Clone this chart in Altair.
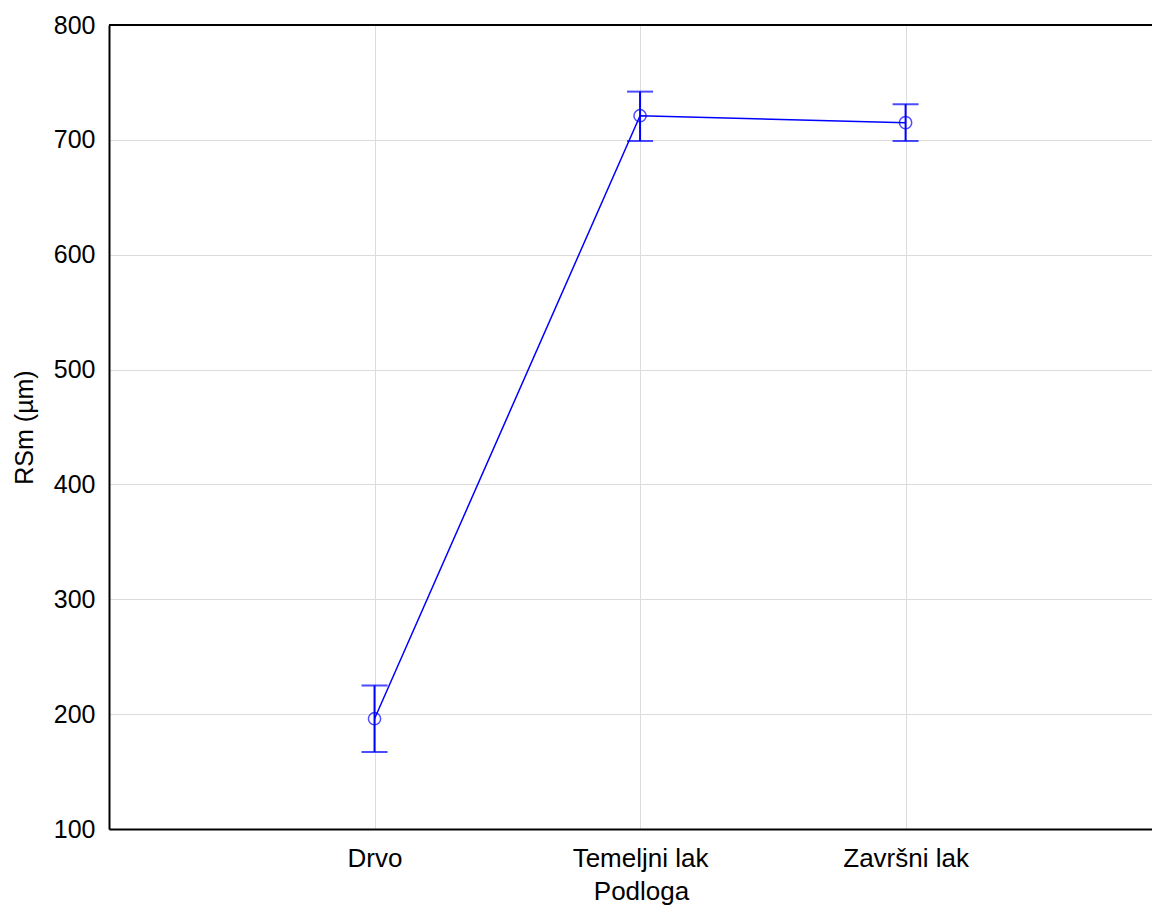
import altair as alt
import pandas as pd

categories = ["Drvo", "Temeljni lak", "Završni lak"]
positions = [1, 2, 3]
means = [196, 721, 715]
upper = [225, 742, 731]
lower = [167, 699, 699]

y_ticks = [100, 200, 300, 400, 500, 600, 700, 800]

df = pd.DataFrame({"pos": positions, "cat": categories, "mean": means, "hi": upper, "lo": lower})

W = 1043
H = 804
BLUE = "#0000ff"
FONT = "Liberation Sans"

label_expr = " : ".join(
    [f"datum.value == {p} ? '{c}'" for p, c in zip(positions, categories)]
) + " : ''"

x = alt.X("pos:Q", scale=alt.Scale(domain=[0, 3.928], nice=False, zero=False),
          axis=alt.Axis(values=positions, labelExpr=label_expr, title="Podloga",
                        grid=True, gridColor="#dcdcdc", ticks=False,
                        domainColor="black", domainWidth=2,
                        labelFont=FONT, labelFontSize=26, labelColor="black", labelPadding=16,
                        titleFont=FONT, titleFontSize=26, titleFontWeight="normal",
                        titleColor="black", titlePadding=7, titleX=532, titleAlign="center"))
y_scale = alt.Scale(domain=[100, 800], nice=False, zero=False)
y = alt.Y("mean:Q", scale=y_scale,
          axis=alt.Axis(values=y_ticks, title="RSm (µm)", grid=True, gridColor="#dcdcdc",
                        ticks=False, domainColor="black", domainWidth=2,
                        labelFont=FONT, labelFontSize=25, labelColor="black", labelPadding=14,
                        titleFont=FONT, titleFontSize=25, titleFontWeight="normal",
                        titleColor="black", titlePadding=16))

base = alt.Chart(df)
line = base.mark_line(color=BLUE, strokeWidth=1.5).encode(x=x, y=y)
pts = base.mark_point(shape="circle", filled=False, color=BLUE, size=150, strokeWidth=1.5).encode(x=x, y=y)
rule = base.mark_rule(color=BLUE, strokeWidth=2).encode(x=x, y=alt.Y("lo:Q", scale=y_scale), y2="hi:Q")
cap_hi = base.mark_tick(color=BLUE, size=26, thickness=2, orient="horizontal").encode(x=x, y=alt.Y("hi:Q", scale=y_scale))
cap_lo = base.mark_tick(color=BLUE, size=26, thickness=2, orient="horizontal").encode(x=x, y=alt.Y("lo:Q", scale=y_scale))
top = alt.Chart(pd.DataFrame({"v": [800]})).mark_rule(color="black", strokeWidth=2).encode(
    y=alt.Y("v:Q", scale=y_scale), x=alt.value(0), x2=alt.value(W))

chart = alt.layer(top, rule, cap_hi, cap_lo, line, pts).properties(
    width=W, height=H,
    autosize=alt.AutoSizeParams(type="none"),
    padding={"left": 101, "top": 17, "right": 0, "bottom": 79},
).configure_view(stroke=None).configure(background="white")

chart.save("out.html", embed_options={"renderer": "svg", "actions": False})
